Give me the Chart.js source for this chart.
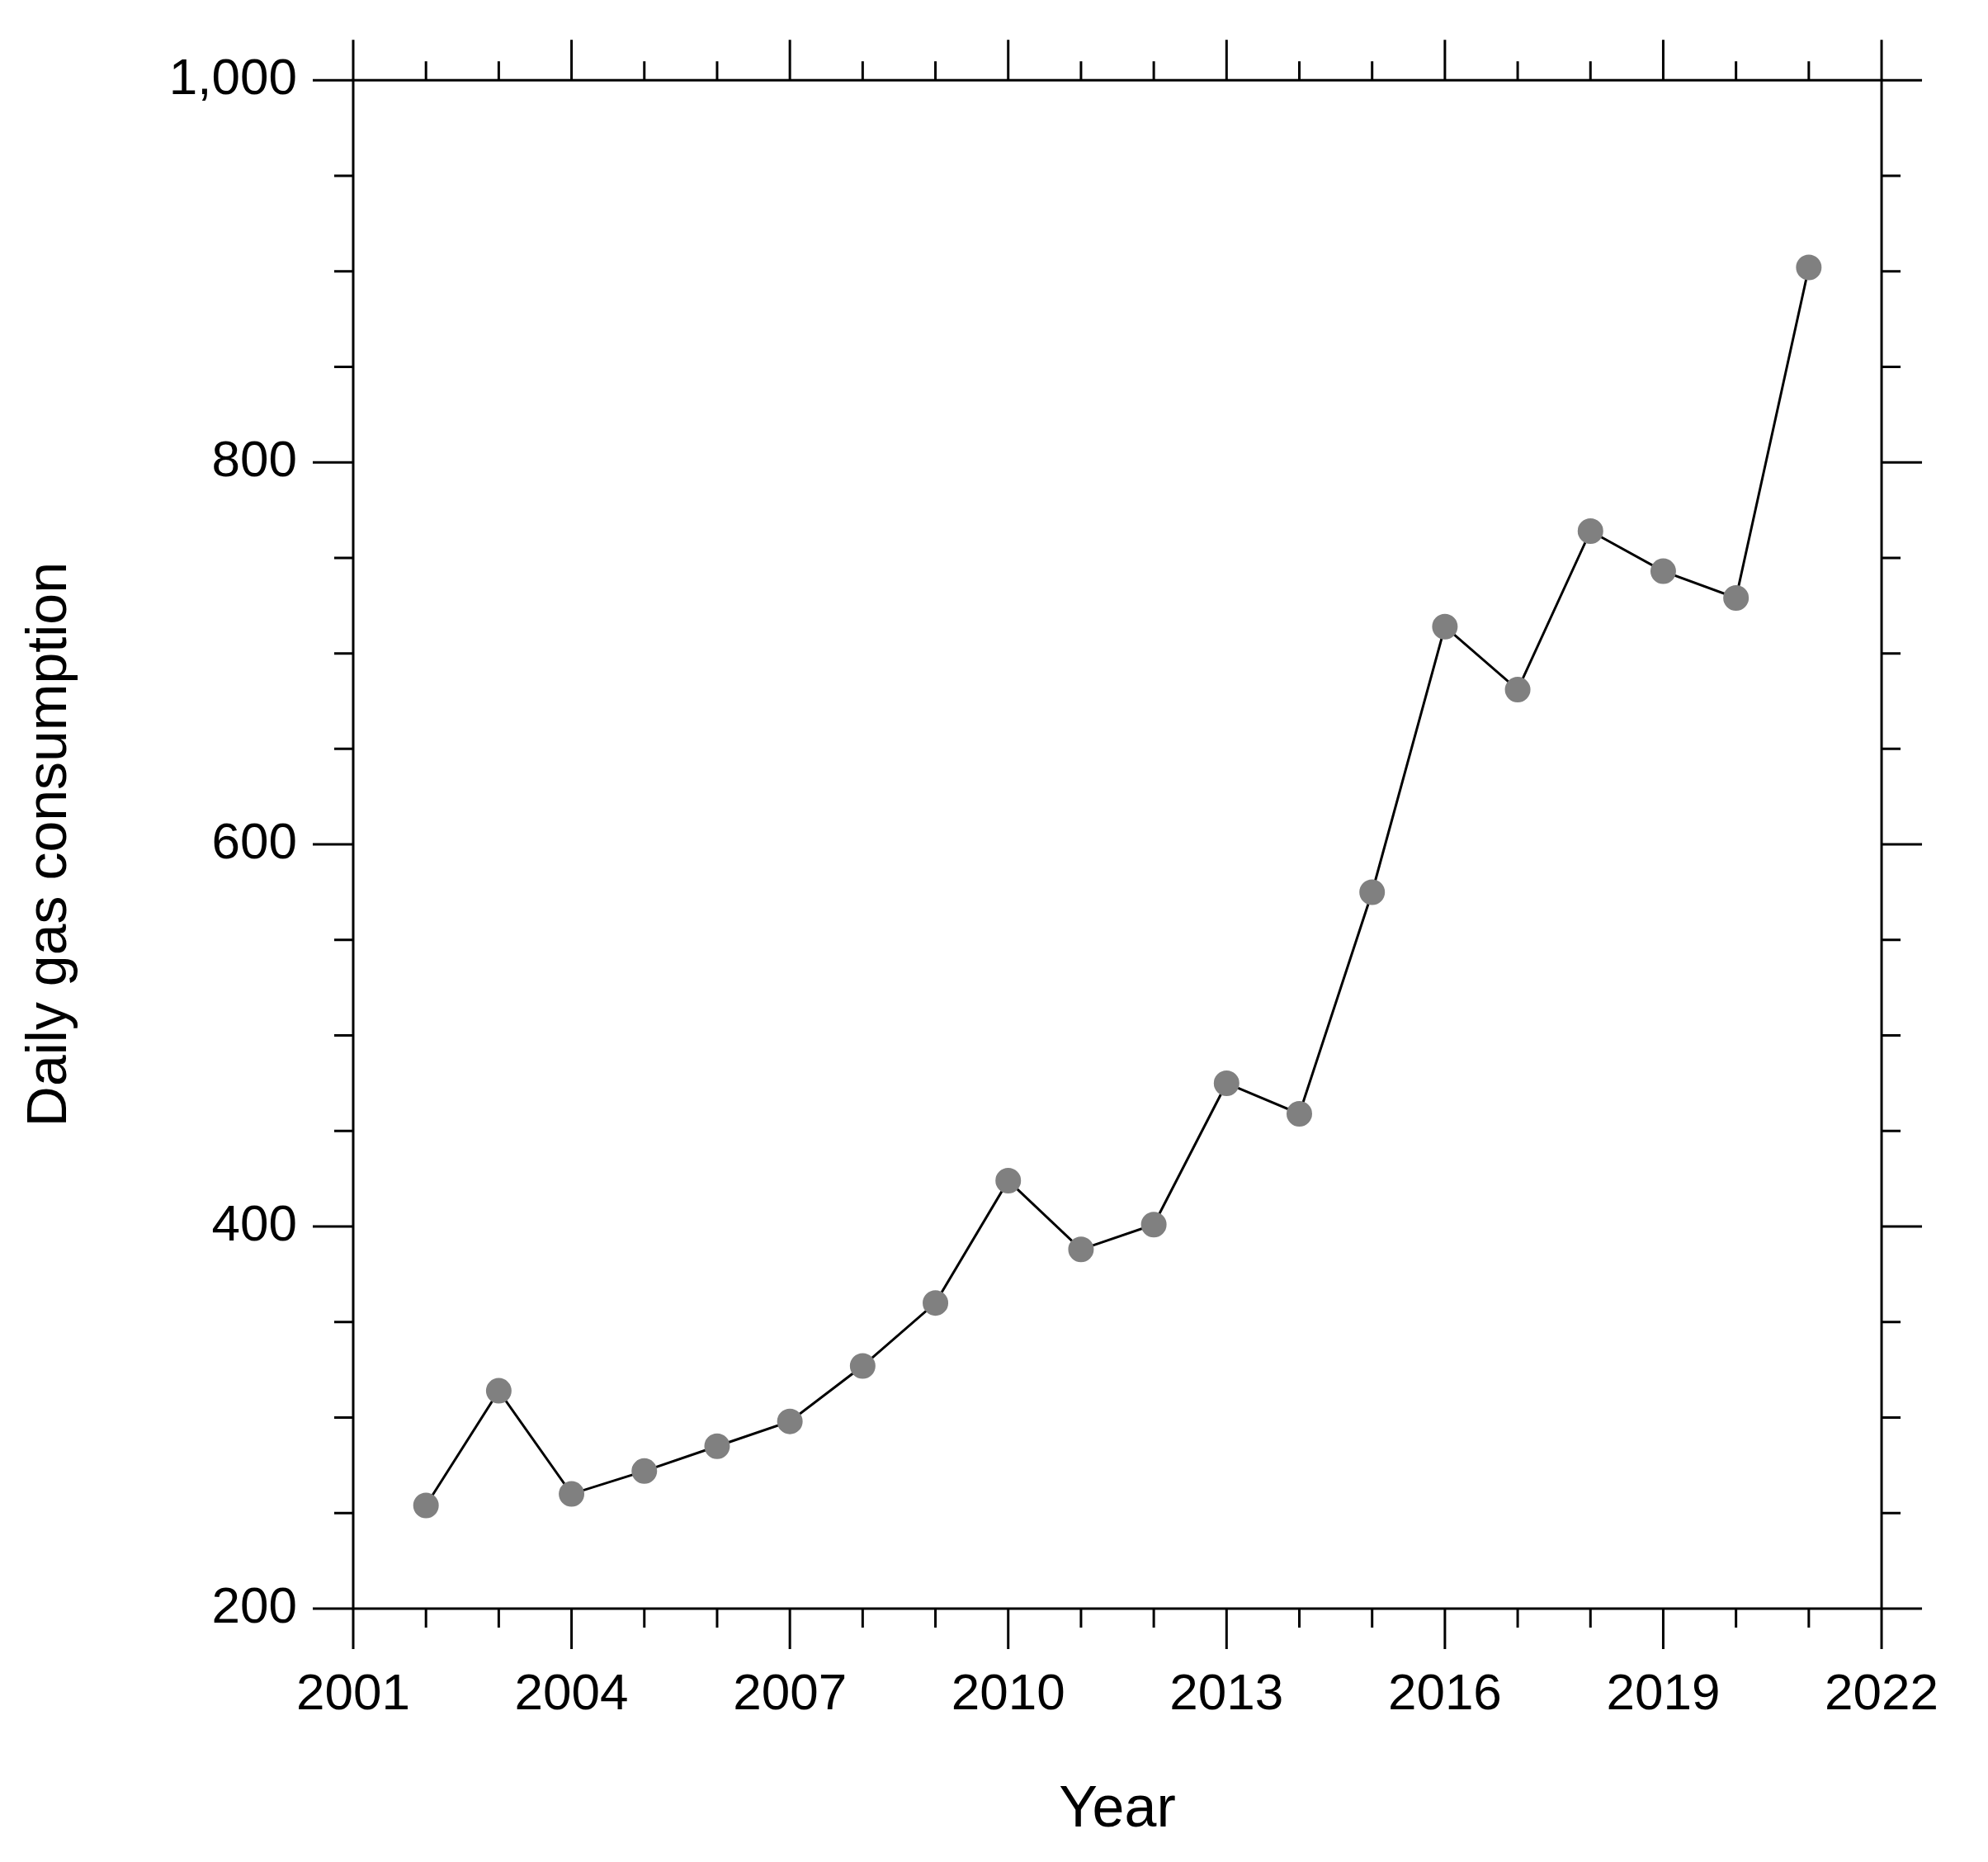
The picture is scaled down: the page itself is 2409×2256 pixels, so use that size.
<!DOCTYPE html>
<html><head><style>html,body{margin:0;padding:0;background:#fff}#c{display:block}</style>
<script src="https://cdn.jsdelivr.net/npm/chart.js@4"></script></head>
<body><div style="width:2409px;height:2256px"><canvas id="c"></canvas></div>
<script>
const years=[2002,2003,2004,2005,2006,2007,2008,2009,2010,2011,2012,2013,2014,2015,2016,2017,2018,2019,2020,2021];
const values=[254,314,260,272,285,298,327,360,424,388,401,475,459,575,714,681,764,743,729,902];
const xTicks=[2001,2004,2007,2010,2013,2016,2019,2022];
const yTicks=[200,400,600,800,1000];
const F='"Liberation Sans", Arial, sans-serif';
const LW=3, MAJ=49, MIN=23;
const frame={id:'frame',afterDraw(ch){
  const c=ch.ctx,a=ch.chartArea,x=ch.scales.x,y=ch.scales.y;
  c.save();c.strokeStyle='#000';c.lineWidth=LW;c.lineCap='butt';
  c.strokeRect(a.left,a.top,a.right-a.left,a.bottom-a.top);
  c.beginPath();
  for(let v=2001;v<=2022;v++){const px=x.getPixelForValue(v);const L=(v-2001)%3===0?MAJ:MIN;
    c.moveTo(px,a.bottom);c.lineTo(px,a.bottom+L);c.moveTo(px,a.top);c.lineTo(px,a.top-L);}
  for(let v=200;v<=1000;v+=50){const py=y.getPixelForValue(v);const L=v%200===0?MAJ:MIN;
    c.moveTo(a.left,py);c.lineTo(a.left-L,py);c.moveTo(a.right,py);c.lineTo(a.right+L,py);}
  c.stroke();c.restore();}};
new Chart(document.getElementById('c'),{type:'line',
 data:{datasets:[{data:years.map((v,i)=>({x:v,y:values[i]})),borderColor:'#000',borderWidth:3,
   pointBackgroundColor:'#808080',pointBorderColor:'#808080',pointRadius:14,pointHoverRadius:14,tension:0}]},
 options:{responsive:true,maintainAspectRatio:false,animation:false,devicePixelRatio:1,
  plugins:{legend:{display:false},tooltip:{enabled:false}},
  layout:{padding:0},
  scales:{
   x:{type:'linear',min:2001,max:2022,afterBuildTicks(s){s.ticks=xTicks.map(v=>({value:v}));},
      afterFit(s){s.height=307;},
      grid:{display:false},border:{display:false},
      ticks:{color:'#000',font:{family:F,size:62},padding:60,maxRotation:0,callback:v=>String(v)},
      title:{display:true,text:'Year',color:'#000',font:{family:F,size:70},padding:{top:0,bottom:20}}},
   x2:{type:'linear',position:'top',min:2001,max:2022,afterFit(s){s.height=71;},grid:{display:false},border:{display:false},ticks:{display:false}},
   y:{min:200,max:1000,afterBuildTicks(s){s.ticks=yTicks.map(v=>({value:v}));},
      afterFit(s){s.width=428;},
      grid:{display:false},border:{display:false},
      ticks:{color:'#000',font:{family:F,size:62},padding:60},
      title:{display:true,text:'Daily gas consumption',color:'#000',font:{family:F,size:68},padding:{top:20,bottom:0}}},
   y2:{position:'right',min:200,max:1000,afterFit(s){s.width=102;},grid:{display:false},border:{display:false},ticks:{display:false}}
  }},plugins:[frame]});
</script></body></html>
